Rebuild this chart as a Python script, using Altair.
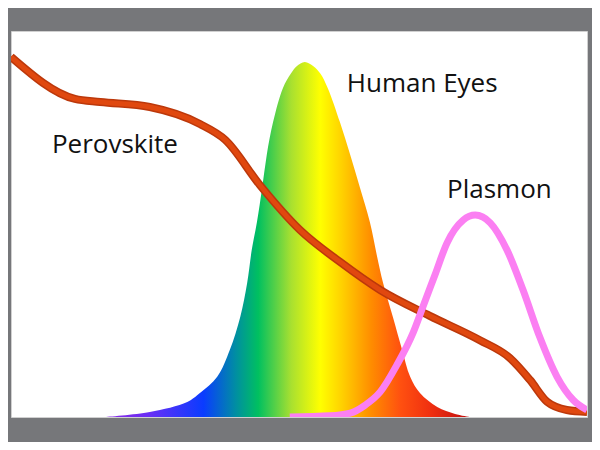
import altair as alt
import pandas as pd

# Perovskite absorption (relative units, x = relative wavelength 0-100)
perov_x = [0, 11.1, 15.5, 24.1, 32.8, 37.2, 43.2, 50.2, 57.1, 64.1, 72.7, 81.4, 86.6, 90.1, 93.1, 96.5, 100]
perov_y = [93.3, 82.4, 81.6, 80.3, 75.9, 71.8, 60.1, 48.4, 40.2, 32.9, 26.2, 19.9, 15.3, 9.6, 3.9, 1.8, 1.3]

# Human eye sensitivity
eye_x = [16.3, 24.1, 30.6, 32.8, 35.8, 38.0, 39.8, 41.0, 41.8, 42.7, 43.6, 44.4, 45.5, 47.2, 48.6, 49.6, 51.0,
         52.5, 53.7, 55.0, 57.1, 58.9, 60.6, 62.3, 63.5, 64.6, 66.3, 67.9, 69.3, 71.0, 74.0, 77.1, 79.7]
eye_y = [0, 1.3, 3.9, 6.2, 10.4, 17.4, 25.9, 34.7, 43.3, 50.5, 59.3, 67.9, 76.4, 85.2, 89.0, 90.9, 92.0,
         90.9, 89.0, 85.2, 76.4, 67.9, 59.3, 50.5, 42.0, 34.7, 25.9, 17.4, 10.4, 6.2, 2.6, 0.8, 0]

# Plasmon resonance
plas_x = [48.4, 55.4, 58.9, 61.5, 64.1, 67.0, 69.8, 71.5, 73.6, 75.7, 78.5, 80.6, 83.2, 86.1, 88.9, 91.8, 94.8, 97.6, 100]
plas_y = [0, 0.3, 1.0, 3.1, 6.5, 13.5, 21.8, 28.5, 36.8, 45.1, 51.0, 52.3, 50.3, 43.3, 32.9, 20.7, 10.4, 4.4, 1.8]

# Labels
label_text = ["Perovskite", "Human Eyes", "Plasmon"]
label_x = [7.1, 58.3, 75.7]
label_y = [68.4, 84.2, 56.7]

perov = pd.DataFrame({"x": perov_x, "y": perov_y})
eye = pd.DataFrame({"x": eye_x, "y": eye_y})
plas = pd.DataFrame({"x": plas_x, "y": plas_y})
labels = pd.DataFrame({"t": label_text, "x": label_x, "y": label_y})

xs = alt.Scale(domain=[0, 100], nice=False, zero=False)
ys = alt.Scale(domain=[0, 100], nice=False, zero=False)
X = alt.X("x:Q", scale=xs, axis=None)
Y = alt.Y("y:Q", scale=ys, axis=None)

spectrum = alt.Gradient(
    gradient="linear", x1=0, y1=0, x2=1, y2=0,
    stops=[
        alt.GradientStop(offset=0.0, color="#8a2be2"),
        alt.GradientStop(offset=0.12, color="#6a2ef5"),
        alt.GradientStop(offset=0.27, color="#0a3cff"),
        alt.GradientStop(offset=0.36, color="#0090a0"),
        alt.GradientStop(offset=0.42, color="#00c060"),
        alt.GradientStop(offset=0.51, color="#a8e030"),
        alt.GradientStop(offset=0.59, color="#ffff00"),
        alt.GradientStop(offset=0.65, color="#ffd000"),
        alt.GradientStop(offset=0.73, color="#ff8c00"),
        alt.GradientStop(offset=0.81, color="#ff5010"),
        alt.GradientStop(offset=0.89, color="#f03010"),
        alt.GradientStop(offset=1.0, color="#c01010"),
    ],
)

eye_area = alt.Chart(eye).mark_area(interpolate="catmull-rom", color=spectrum, clip=True).encode(x=X, y=Y)
perov_dark = alt.Chart(perov).mark_line(interpolate="monotone", color="#bc380b", strokeWidth=8, clip=True).encode(x=X, y=Y)
perov_line = alt.Chart(perov).mark_line(interpolate="monotone", color="#e0480f", strokeWidth=5, clip=True).encode(x=X, y=Y)
plas_line = alt.Chart(plas).mark_line(interpolate="monotone", color="#fb7ff2", strokeWidth=7, clip=True).encode(x=X, y=Y)
text = alt.Chart(labels).mark_text(
    align="left", baseline="alphabetic", font="Open Sans", fontSize=26, color="#111111"
).encode(x=X, y=Y, text="t:N")

chart = alt.layer(eye_area, perov_dark, perov_line, plas_line, text).properties(
    width=576, height=386,
    padding={"left": 3, "top": 23, "right": 5, "bottom": 25},
    background="#76777a",
).configure_view(fill="white", stroke="#d0d0d0", strokeWidth=1)

chart.save("out.html", embed_options={"renderer": "svg", "actions": False})
